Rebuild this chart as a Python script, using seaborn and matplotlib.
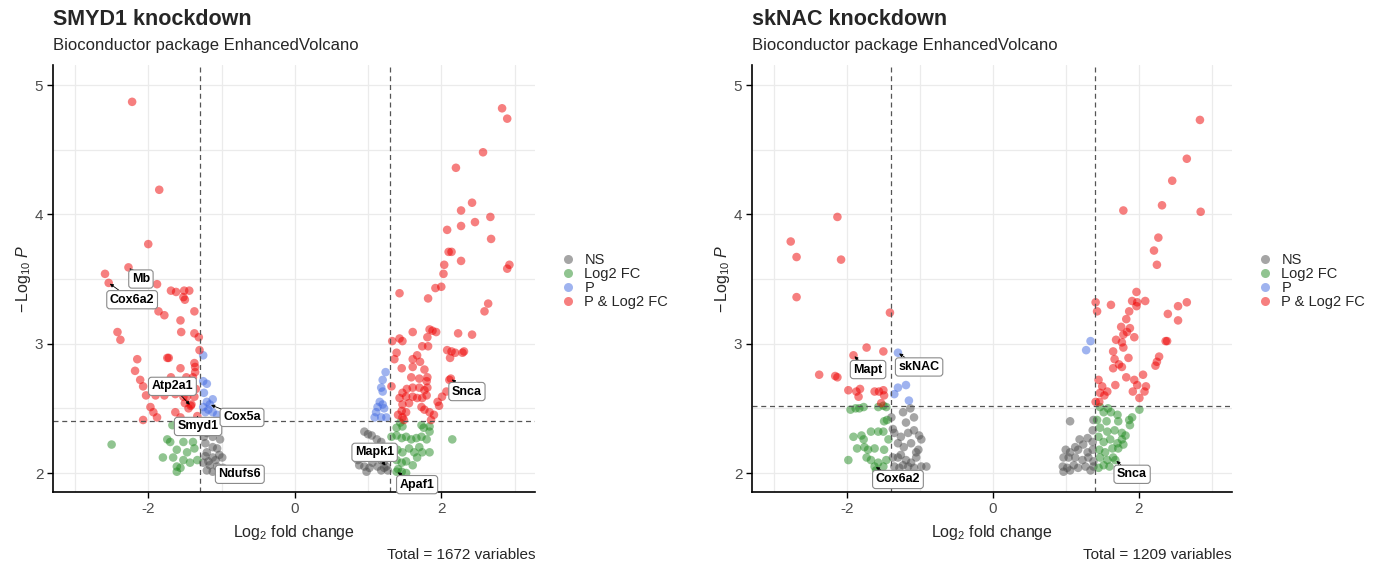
import matplotlib
matplotlib.use("Agg")
import matplotlib.pyplot as plt
from matplotlib.lines import Line2D
from matplotlib.ticker import MultipleLocator
import pandas as pd
import seaborn as sns

# ---- SMYD1 knockdown: (log2 fold change, -log10 P) per class ----
smyd1_ns = [(-1.25, 2.39), (-1.16, 2.37), (-1.06, 2.36), (-1.20, 2.31), (-1.12, 2.28), (-1.02, 2.26),
            (-1.22, 2.23), (-1.12, 2.20), (-1.06, 2.19), (-1.20, 2.16), (-1.12, 2.12), (-0.99, 2.12),
            (-1.25, 2.08), (-1.16, 2.06), (-1.06, 2.05), (-0.98, 2.04), (-1.20, 2.02), (-1.12, 2.01),
            (-1.02, 2.02), (-1.24, 2.28), (-1.08, 2.10), (-1.18, 2.09), (-1.03, 2.14), (-1.22, 2.13),
            (-1.10, 2.33),
            (1.05, 2.29), (1.12, 2.26), (1.18, 2.24), (0.88, 2.06), (0.95, 2.05), (1.02, 2.04),
            (1.06, 2.08), (1.13, 2.05), (1.18, 2.02), (1.22, 2.04), (1.25, 2.05), (0.86, 2.10),
            (1.05, 2.12), (1.18, 2.10), (1.22, 2.09), (1.27, 2.02), (0.98, 2.01), (1.20, 2.20),
            (1.25, 2.15), (1.10, 2.16), (0.95, 2.32), (1.00, 2.30)]
smyd1_fc = [(-2.50, 2.22), (-1.67, 2.37), (-1.74, 2.26), (-1.70, 2.24), (-1.52, 2.24), (-1.39, 2.24),
            (-1.56, 2.36), (-1.47, 2.36), (-1.36, 2.35), (-1.61, 2.18), (-1.47, 2.16), (-1.37, 2.19),
            (-1.80, 2.12), (-1.66, 2.12), (-1.52, 2.10), (-1.33, 2.10), (-1.61, 2.05), (-1.56, 2.04),
            (-1.61, 2.01), (-1.43, 2.08),
            (1.44, 2.39), (1.47, 2.36), (1.39, 2.35), (1.73, 2.37), (1.76, 2.35), (1.84, 2.36),
            (2.15, 2.26), (1.32, 2.28), (1.39, 2.29), (1.46, 2.27), (1.52, 2.28), (1.59, 2.26),
            (1.66, 2.27), (1.73, 2.28), (1.80, 2.26), (1.84, 2.32), (1.33, 2.20), (1.40, 2.18),
            (1.47, 2.16), (1.56, 2.19), (1.63, 2.16), (1.70, 2.20), (1.74, 2.16), (1.84, 2.16),
            (1.39, 2.10), (1.46, 2.08), (1.52, 2.09), (1.61, 2.06), (1.67, 2.12), (1.39, 2.01),
            (1.46, 2.01), (1.52, 2.00), (1.41, 2.03)]
smyd1_p = [(-1.25, 2.91), (-1.25, 2.71), (-1.20, 2.69), (-1.24, 2.62), (-1.20, 2.55), (-1.16, 2.53),
           (-1.12, 2.57), (-1.25, 2.51), (-1.18, 2.49), (-1.22, 2.47), (-1.12, 2.47), (-1.06, 2.45),
           (1.24, 2.78), (1.20, 2.72), (1.18, 2.66), (1.20, 2.63), (1.16, 2.55), (1.20, 2.53),
           (1.13, 2.51), (1.22, 2.50), (1.11, 2.47), (1.18, 2.43), (1.25, 2.43), (1.09, 2.43)]
smyd1_both = [(-2.22, 4.87), (-1.85, 4.19), (-2.00, 3.77), (-2.27, 3.59), (-2.59, 3.54), (-2.54, 3.47),
              (-1.88, 3.46), (-1.69, 3.41), (-1.62, 3.40), (-1.51, 3.41), (-1.44, 3.41), (-1.52, 3.36),
              (-1.50, 3.34), (-1.93, 3.30), (-1.86, 3.25), (-1.78, 3.22), (-1.37, 3.25), (-1.56, 3.18),
              (-1.55, 3.09), (-1.37, 3.08), (-2.42, 3.09), (-2.38, 3.03), (-1.31, 3.05), (-1.30, 2.95),
              (-2.15, 2.88), (-1.74, 2.89), (-1.72, 2.89), (-1.37, 2.85), (-2.18, 2.79), (-1.56, 2.81),
              (-1.36, 2.82), (-1.36, 2.78), (-2.11, 2.72), (-1.69, 2.74), (-1.48, 2.74), (-1.39, 2.74),
              (-2.07, 2.67), (-2.03, 2.60), (-1.90, 2.60), (-1.78, 2.60), (-1.63, 2.61), (-1.52, 2.59),
              (-1.47, 2.59), (-1.37, 2.59), (-1.50, 2.54), (-1.41, 2.53), (-1.97, 2.51), (-1.93, 2.47),
              (-1.88, 2.43), (-2.07, 2.41), (-1.63, 2.47), (-1.56, 2.43), (-1.33, 2.44), (-1.45, 2.50),
              (-1.42, 2.52), (-1.35, 2.65), (-1.44, 2.66),
              (2.83, 4.82), (2.90, 4.74), (2.57, 4.48), (2.20, 4.36), (2.42, 4.09), (2.27, 4.03),
              (2.67, 3.98), (2.46, 3.94), (2.27, 3.91), (2.08, 3.88), (2.68, 3.81), (2.10, 3.71),
              (2.14, 3.71), (2.27, 3.64), (2.04, 3.61), (2.93, 3.61), (2.90, 3.58), (2.03, 3.54),
              (1.92, 3.43), (2.00, 3.44), (1.43, 3.39), (1.82, 3.35), (2.64, 3.31), (2.59, 3.25),
              (1.61, 3.09), (1.84, 3.11), (1.88, 3.10), (1.93, 3.09), (2.23, 3.08), (2.42, 3.07),
              (1.81, 3.05), (1.33, 3.02), (1.43, 3.04), (1.47, 3.02), (1.74, 2.98), (1.82, 2.98),
              (2.08, 2.95), (2.14, 2.94), (2.19, 2.93), (2.29, 2.93), (2.31, 2.94), (2.12, 2.89),
              (1.39, 2.93), (1.36, 2.88), (1.61, 2.88), (1.67, 2.91), (1.71, 2.86), (1.46, 2.81),
              (1.61, 2.82), (1.77, 2.80), (1.81, 2.74), (1.80, 2.71), (1.59, 2.74), (1.70, 2.73),
              (2.11, 2.72), (2.13, 2.73), (1.32, 2.67), (1.53, 2.65), (1.61, 2.66), (1.70, 2.66),
              (1.77, 2.64), (1.81, 2.66), (2.07, 2.63), (2.01, 2.59), (1.47, 2.62), (1.52, 2.59),
              (1.43, 2.58), (1.61, 2.59), (1.67, 2.58), (1.74, 2.58), (1.80, 2.60), (1.95, 2.55),
              (1.97, 2.52), (1.47, 2.53), (1.56, 2.54), (1.46, 2.48), (1.41, 2.45), (1.47, 2.43),
              (1.52, 2.47), (1.73, 2.51), (1.77, 2.49), (1.84, 2.47), (1.90, 2.45), (1.86, 2.41),
              (1.49, 2.41)]
smyd1_genes = ["Mb", "Cox6a2", "Atp2a1", "Smyd1", "Cox5a", "Ndufs6", "Snca", "Mapk1", "Apaf1"]
smyd1_gene_pts = [(-2.27, 3.59), (-2.54, 3.47), (-1.42, 2.52), (-1.33, 2.44), (-1.16, 2.53),
                  (-0.98, 2.04), (2.13, 2.73), (1.25, 2.05), (1.39, 2.01)]

# ---- skNAC knockdown ----
sknac_ns = [(-1.39, 2.43), (-1.37, 2.34), (-1.23, 2.47), (-1.13, 2.50), (-1.08, 2.43), (-1.19, 2.39),
            (-1.35, 2.31), (-1.26, 2.28), (-1.16, 2.31), (-1.08, 2.33), (-1.01, 2.29), (-0.98, 2.26),
            (-1.30, 2.23), (-1.22, 2.20), (-1.12, 2.23), (-1.05, 2.16), (-1.02, 2.18), (-1.37, 2.12),
            (-1.30, 2.12), (-1.26, 2.14), (-1.19, 2.10), (-1.12, 2.08), (-1.05, 2.12), (-0.98, 2.05),
            (-0.91, 2.05), (-1.35, 2.05), (-1.28, 2.04), (-1.23, 2.06), (-1.16, 2.05), (-1.08, 2.04),
            (1.06, 2.40), (1.38, 2.41), (1.37, 2.33), (1.19, 2.26), (1.30, 2.27), (1.37, 2.24),
            (1.24, 2.22), (1.13, 2.20), (1.00, 2.18), (1.06, 2.16), (1.17, 2.18), (1.30, 2.16),
            (1.37, 2.18), (0.97, 2.12), (1.04, 2.12), (1.13, 2.12), (1.23, 2.10), (1.31, 2.12),
            (1.38, 2.09), (0.96, 2.05), (1.02, 2.04), (1.11, 2.06), (1.17, 2.04), (1.27, 2.05),
            (1.34, 2.02), (1.38, 2.05), (0.97, 2.01), (1.06, 2.02)]
sknac_fc = [(-1.95, 2.49), (-1.88, 2.50), (-1.83, 2.50), (-1.77, 2.51), (-1.57, 2.51), (-1.50, 2.52),
            (-1.46, 2.51), (-1.49, 2.40), (-1.45, 2.41), (-1.91, 2.28), (-1.80, 2.29), (-1.77, 2.26),
            (-1.67, 2.32), (-1.57, 2.32), (-1.50, 2.32), (-1.43, 2.26), (-1.86, 2.19), (-1.76, 2.20),
            (-1.71, 2.18), (-1.62, 2.19), (-1.49, 2.18), (-1.98, 2.10), (-1.73, 2.12), (-1.67, 2.10),
            (-1.62, 2.05), (-1.57, 2.08), (-1.50, 2.05), (-1.46, 2.10), (-1.60, 2.02),
            (1.47, 2.51), (1.58, 2.50), (1.52, 2.47), (1.62, 2.47), (1.71, 2.45), (2.01, 2.49),
            (1.91, 2.43), (1.87, 2.41), (1.72, 2.40), (1.56, 2.40), (1.43, 2.41), (1.47, 2.35),
            (1.57, 2.32), (1.67, 2.33), (1.77, 2.31), (1.82, 2.29), (1.88, 2.37), (1.45, 2.28),
            (1.52, 2.24), (1.61, 2.26), (1.71, 2.23), (1.77, 2.26), (1.79, 2.22), (1.46, 2.18),
            (1.54, 2.16), (1.64, 2.19), (1.72, 2.19), (1.47, 2.12), (1.57, 2.10), (1.65, 2.12),
            (1.52, 2.06), (1.60, 2.05), (1.45, 2.04), (1.68, 2.10)]
sknac_p = [(-1.30, 2.93), (-1.19, 2.68), (-1.30, 2.66), (-1.35, 2.61), (-1.15, 2.56),
           (1.34, 3.02), (1.28, 2.95)]
sknac_both = [(-2.13, 3.98), (-2.77, 3.79), (-2.69, 3.67), (-2.08, 3.65), (-2.69, 3.36), (-1.41, 3.24),
              (-1.73, 2.97), (-1.91, 2.91), (-1.50, 2.94), (-2.38, 2.76), (-2.16, 2.75), (-2.13, 2.74),
              (-1.98, 2.64), (-1.87, 2.63), (-1.82, 2.65), (-1.84, 2.59), (-1.62, 2.63), (-1.56, 2.63),
              (-1.50, 2.64), (-1.49, 2.60), (-1.53, 2.54),
              (2.84, 4.73), (2.66, 4.43), (2.46, 4.26), (2.32, 4.07), (1.79, 4.03), (2.85, 4.02),
              (2.27, 3.82), (2.21, 3.72), (2.25, 3.61), (1.97, 3.40), (1.91, 3.33), (1.98, 3.32),
              (1.97, 3.29), (2.09, 3.33), (2.66, 3.32), (2.54, 3.29), (2.40, 3.23), (2.54, 3.18),
              (1.41, 3.32), (1.43, 3.25), (1.62, 3.30), (1.87, 3.25), (1.83, 3.19), (1.76, 3.13),
              (1.88, 3.12), (1.84, 3.09), (1.79, 3.07), (1.94, 3.05), (1.69, 3.03), (1.77, 3.01),
              (1.79, 2.97), (2.39, 3.02), (2.37, 3.02), (1.65, 2.94), (1.86, 2.89), (1.67, 2.88),
              (1.73, 2.84), (1.77, 2.82), (2.28, 2.90), (2.25, 2.86), (2.23, 2.83), (1.65, 2.81),
              (1.83, 2.74), (2.06, 2.76), (1.94, 2.72), (1.98, 2.68), (1.92, 2.63), (2.10, 2.67),
              (2.08, 2.63), (2.01, 2.58), (1.68, 2.68), (1.45, 2.72), (1.50, 2.67), (1.57, 2.63),
              (1.47, 2.62), (1.53, 2.60), (1.41, 2.55), (1.46, 2.55)]
sknac_genes = ["Mapt", "skNAC", "Cox6a2", "Snca"]
sknac_gene_pts = [(-1.91, 2.91), (-1.30, 2.93), (-1.62, 2.05), (1.68, 2.10)]

CLASSES = ["NS", "Log2 FC", "P", "P & Log2 FC"]
PALETTE = {"NS": "#4d4d4d", "Log2 FC": "#228B22", "P": "#4169E1", "P & Log2 FC": "#EE0000"}

sns.set_style("white")
plt.rcParams["font.family"] = ["Liberation Sans", "DejaVu Sans"]
plt.rcParams["mathtext.fontset"] = "custom"
plt.rcParams["mathtext.rm"] = "Liberation Sans"
plt.rcParams["mathtext.it"] = "Liberation Sans:italic"
plt.rcParams["axes.unicode_minus"] = False


def make_frame(ns, fc, p, both):
    rows = []
    for cls, pts in zip(CLASSES, [ns, fc, p, both]):
        rows += [(x, y, cls) for x, y in pts]
    return pd.DataFrame(rows, columns=["log2fc", "nlogp", "group"])


def volcano(ax, df, fc_cut, p_cut, genes, gene_pts, label_xy):
    ax.set_axisbelow(True)
    ax.xaxis.set_major_locator(MultipleLocator(2))
    ax.xaxis.set_minor_locator(MultipleLocator(1))
    ax.yaxis.set_major_locator(MultipleLocator(1))
    ax.yaxis.set_minor_locator(MultipleLocator(0.5))
    ax.grid(which="both", color="#ebebeb", lw=0.9)

    sns.scatterplot(data=df, x="log2fc", y="nlogp", hue="group", hue_order=CLASSES,
                    palette=PALETTE, alpha=0.5, s=38, linewidth=0, legend=False, ax=ax)

    for v in (-fc_cut, fc_cut):
        ax.axvline(v, color="#555555", ls=(0, (4, 3)), lw=0.9)
    ax.axhline(p_cut, color="#555555", ls=(0, (4, 3)), lw=0.9)

    for name, pt, pos in zip(genes, gene_pts, label_xy):
        ax.annotate(name, xy=pt, xytext=pos, ha="center", va="center",
                    fontsize=9, fontweight="bold", color="black",
                    bbox=dict(boxstyle="round,pad=0.25", fc="white", ec="#8a8a8a", lw=0.8),
                    arrowprops=dict(arrowstyle="-|>", color="black", lw=0.6,
                                    mutation_scale=5, shrinkA=0, shrinkB=1))

    ax.set_xlim(-3.3, 3.28)
    ax.set_ylim(1.853, 5.155)
    sns.despine(ax=ax)
    for s in ("left", "bottom"):
        ax.spines[s].set_color("black")
        ax.spines[s].set_linewidth(1.2)
    ax.tick_params(which="major", length=4, width=1, color="black",
                   labelsize=11, labelcolor="#4d4d4d", left=True, bottom=True, pad=3)
    ax.tick_params(which="minor", length=0)
    ax.set_xlabel(r"$\mathrm{Log}_{2}$ fold change", fontsize=11.5, labelpad=5)
    ax.set_ylabel(r"$-\,\mathrm{Log}_{10}\ \mathit{P}$", fontsize=11.5)
    ax.yaxis.set_label_coords(-0.041, 0.5)

    handles = [Line2D([], [], ls="", marker="o", ms=6.5, mew=0, alpha=0.5,
                      color=PALETTE[c]) for c in CLASSES]
    ax.legend(handles, CLASSES, loc="center left", bbox_to_anchor=(1.054, 0.494),
              frameon=False, fontsize=10.5, handlelength=1.0, handletextpad=0.6,
              labelspacing=0.0, borderpad=0, borderaxespad=0)


fig = plt.figure(figsize=(13.84, 5.66), dpi=100)
ax1 = fig.add_axes([0.0383, 0.1307, 0.3483, 0.7545])
ax2 = fig.add_axes([0.5434, 0.1307, 0.3468, 0.7545])

volcano(ax1, make_frame(smyd1_ns, smyd1_fc, smyd1_p, smyd1_both), 1.3, 2.40,
        smyd1_genes, smyd1_gene_pts,
        [(-2.10, 3.50), (-2.22, 3.34), (-1.67, 2.67), (-1.32, 2.36), (-0.72, 2.43),
         (-0.75, 1.99), (2.35, 2.63), (1.09, 2.16), (1.67, 1.91)])
volcano(ax2, make_frame(sknac_ns, sknac_fc, sknac_p, sknac_both), 1.4, 2.52,
        sknac_genes, sknac_gene_pts,
        [(-1.71, 2.80), (-1.01, 2.82), (-1.30, 1.95), (1.91, 1.99)])

for ax, title, total in [(ax1, "SMYD1 knockdown", 1672), (ax2, "skNAC knockdown", 1209)]:
    pos = ax.get_position()
    fig.text(pos.x0, 0.965, title, fontsize=15.5, fontweight="bold", va="center", ha="left")
    fig.text(pos.x0, 0.919, "Bioconductor package EnhancedVolcano", fontsize=12,
             va="center", ha="left")
    fig.text(pos.x1, 0.0194, f"Total = {total} variables", fontsize=11, va="center", ha="right")

fig.savefig("out.png", dpi=100)
